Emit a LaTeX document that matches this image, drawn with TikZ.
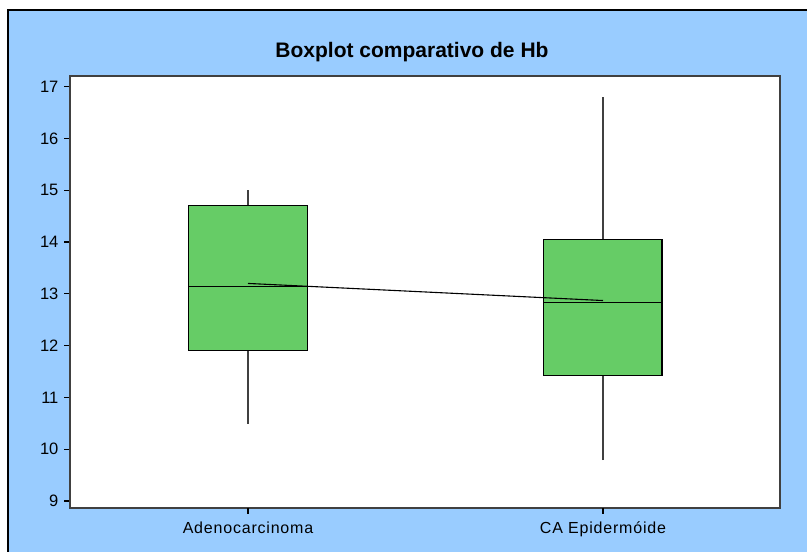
\documentclass[tikz,border=0pt]{standalone}
\usepackage{fontspec}
\setmainfont{Liberation Sans}
\newfontfamily\catfont[LetterSpace=5]{Liberation Sans}
\usepackage{tikz}
\definecolor{panelblue}{RGB}{153,204,255}
\definecolor{boxgreen}{RGB}{102,204,102}
\definecolor{whiskgray}{RGB}{64,64,64}

\begin{document}
\begin{tikzpicture}[x=1pt, y=1pt,
	ticklabel/.style = {font=\fontsize{16.5}{19}\selectfont, inner sep=0pt},
	catlabel/.style = {font=\fontsize{16}{19}\selectfont\catfont, inner sep=0pt, anchor=base},
	whisker/.style = {whiskgray, line width=1.5pt},
	boxbody/.style = {fill=boxgreen, draw=black, line width=1.1pt}]
	\useasboundingbox[fill=white] (0,0) rectangle (807,552);
	\fill[panelblue] (8,0) rectangle (807,542);
	\draw[line width=1.2pt] (8,0) |- (807,542);
	\node[font=\fontsize{21}{25}\selectfont\bfseries, anchor=base, inner sep=0pt] (title) at (412,494.3) {Boxplot comparativo de Hb};
	% plot frame
	\fill[white] (70,44) rectangle (780,476);
	% data scope: y in Hb units
	\begin{scope}[y=51.8pt, yshift=-415.2pt]
		\foreach \v in {9,...,17}
			\draw[line width=1.2pt] (70,\v) -- (64,\v) node[ticklabel, anchor=east, xshift=-5pt] {\v};
		\draw[whisker] (248,10.49) -- (248,15.00);
		\draw[whisker] (603,9.79) -- (603,16.80);
		\draw[boxbody] (188.3,11.90) rectangle (307.3,14.71);
		\draw[boxbody] (543.3,11.42) rectangle (662,14.05);
		\draw[line width=1.1pt] (188.3,13.14) -- (307.3,13.14);
		\draw[line width=1.1pt] (543.3,12.84) -- (662,12.84);
		\coordinate (mA) at (248,13.20);
		\coordinate (mB) at (603,12.87);
		\draw[line width=1.1pt] (mA) -- (mB);
	\end{scope}
	\draw[whiskgray, line width=1.6pt] (70,44) rectangle (780,476);
	\draw[line width=1.2pt] (248,44) -- (248,38);
	\draw[line width=1.2pt] (603,44) -- (603,38);
	\node[catlabel] (adeno) at (248,18) {Adenocarcinoma};
	\node[catlabel] (epid) at (603,18) {CA Epidermóide};
\end{tikzpicture}
\end{document}
